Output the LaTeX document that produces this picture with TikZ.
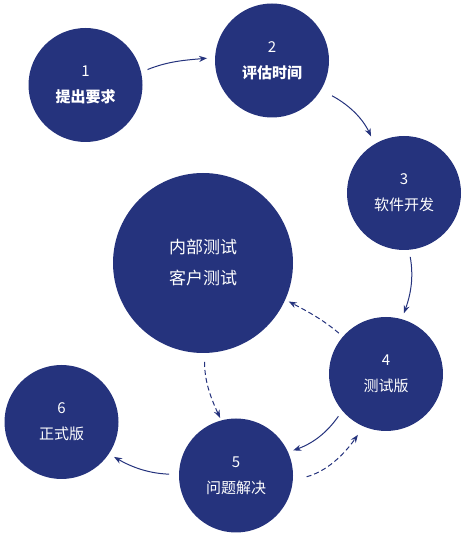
\documentclass[tikz,border=0pt]{standalone}
\usepackage{fontspec}
\setmainfont{Noto Sans CJK SC}
\usepackage{xcolor}
\usetikzlibrary{arrows.meta, positioning}
\definecolor{navy}{RGB}{37,51,125}
\tikzset{
stage/.style = {circle, fill = navy, text = white, minimum size = 114pt, inner sep = 0pt, outer sep = 0pt, align = center, font = \fontsize{15pt}{26pt}\selectfont},
flow/.style = {draw = navy, line width = 1pt, -{Stealth[length = 8pt, width = 6pt]}},
back/.style = {flow, dash pattern = on 5pt off 3pt}
}

\begin{document}
\begin{tikzpicture}[x = 1pt, y = 1pt]
\useasboundingbox (0, 0) rectangle (466, 538);
\node[stage] at (85.5, 453) (c1) {1\\\textbf{提出要求}};
\node[stage] at (272, 477.5) (c2) {2\\\textbf{评估时间}};
\node[stage] at (404, 345) (c3) {3\\软件开发};
\node[stage, minimum size = 180pt, font = \fontsize{17pt}{31pt}\selectfont] at (203, 275) (test) {内部测试\\客户测试};
\node[stage] at (386, 164) (c4) {4\\测试版};
\node[stage] at (236, 62.5) (c5) {5\\问题解决};
\node[stage] at (61.5, 116) (c6) {6\\正式版};
% solid arrows: from/anchor, to/anchor, out, in, gaps
\foreach \a/\p/\b/\q/\o/\i/\s/\e in {c1/13/c2/177/22/185/7/8, c2/-31/c3/121/-28/115/12.7/8.5, c3/-85/c4/74/-80/70/7.2/6.3, c4/220/c5/24/-125/20/6.9/5.4, c5/179/c6/-34/178/-30/10/6.1}{
\draw[flow, shorten < = \s pt, shorten > = \e pt] (\a.\p) to[out = \o, in = \i] (\b.\q);}
% dashed arrows
\foreach \a/\p/\b/\q/\o/\i/\s/\e in {c4/139/test/-24/140/-28/5.4/4, test/-89/c5/105/-90/115/9/2.7, c5/-5/c4/247/15/235/14.3/10.2}{
\draw[back, shorten < = \s pt, shorten > = \e pt] (\a.\p) to[out = \o, in = \i] (\b.\q);}
\end{tikzpicture}
\end{document}
